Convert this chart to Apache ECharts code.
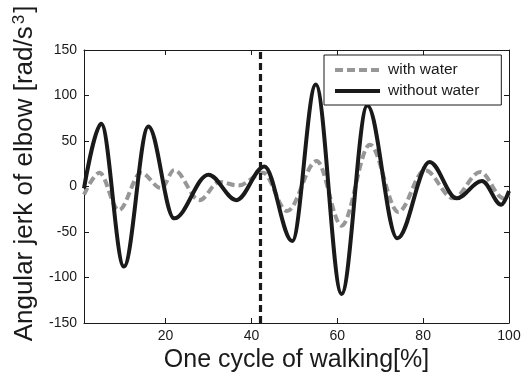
<!DOCTYPE html>
<html>
<head>
<meta charset="utf-8">
<style>
  html, body { margin: 0; padding: 0; background: #fff; }
  #chart { width: 530px; height: 378px; }
</style>
<script src="https://cdn.jsdelivr.net/npm/echarts@6/dist/echarts.min.js"></script>
</head>
<body>
<div id="chart"></div>
<script>
// Angular jerk of the elbow over one walking cycle, turning points of each trace
const seriesNames = ['with water', 'without water'];

const withWaterX = [1, 4.6, 9.1, 14.3, 19, 22, 27.9, 32.5, 37, 42.7, 48.3, 55.2, 61, 67.6, 74.2, 80.4, 87, 93.3, 98.7, 100];
const withWaterY = [-9, 15, -26, 15, -2, 18, -15, 5, 1, 15, -27, 28, -43, 46, -28, 18, -13, 16, -13, -9];

const withoutWaterX = [1, 5, 10.3, 16, 22, 30, 36.5, 43, 49.5, 55, 61, 67, 74, 81.5, 87.8, 93.7, 98.2, 100];
const withoutWaterY = [-2, 69, -88, 66, -35, 13, -15, 22, -60, 112, -118, 89, -57, 27, -13, 6, -20, -5];

// Phase boundary marked within the cycle
const cutPoint = 42;

const xTickValues = [20, 40, 60, 80, 100];
const xRange = [1, 100];
const yRange = [-150, 150];
const yStep = 50;

const pairs = (xs, ys) => xs.map((x, i) => [x, ys[i]]);

const FONT = '"Liberation Sans", Arial, sans-serif';
const INK = '#1a1a1a';
const GREY = '#979797';

const chart = echarts.init(document.getElementById('chart'), null, { renderer: 'canvas' });

const xCommon = {
  type: 'value',
  min: xRange[0],
  max: xRange[1],
  splitLine: { show: false },
  axisLine: { show: true, onZero: false, lineStyle: { color: INK, width: 1 } },
  axisTick: { show: true, inside: true, length: 5, customValues: xTickValues, lineStyle: { color: INK } }
};
const yCommon = {
  type: 'value',
  min: yRange[0],
  max: yRange[1],
  interval: yStep,
  splitLine: { show: false },
  axisLine: { show: true, onZero: false, lineStyle: { color: INK, width: 1 } },
  axisTick: { show: true, inside: true, length: 5, lineStyle: { color: INK } }
};

chart.setOption({
  animation: false,
  backgroundColor: '#fff',
  textStyle: { fontFamily: FONT },
  grid: { left: 84, right: 21, top: 50, bottom: 55, containLabel: false },
  legend: {
    data: seriesNames,
    orient: 'vertical',
    left: 324,
    top: 55,
    backgroundColor: '#fff',
    borderColor: INK,
    borderWidth: 1,
    borderRadius: 0,
    padding: [7, 22, 6, 9],
    itemWidth: 45,
    itemHeight: 14,
    itemGap: 5,
    itemStyle: { opacity: 0, borderWidth: 0 },
    lineStyle: { width: 4 },
    textStyle: { fontFamily: FONT, fontSize: 15.5, color: INK, padding: [0, 0, 0, 3] }
  },
  xAxis: [
    Object.assign({}, xCommon, {
      position: 'bottom',
      name: 'One cycle of walking[%]',
      nameLocation: 'middle',
      nameGap: 22,
      nameTextStyle: { fontFamily: FONT, fontSize: 25, color: INK },
      axisLabel: { show: true, customValues: xTickValues, margin: 6, fontFamily: FONT, fontSize: 14, color: INK }
    }),
    Object.assign({}, xCommon, {
      position: 'top',
      axisLabel: { show: false }
    })
  ],
  yAxis: [
    Object.assign({}, yCommon, {
      position: 'left',
      name: 'Angular jerk of elbow [rad/s{sup|3}]',
      nameLocation: 'middle',
      nameGap: 42,
      nameTextStyle: {
        fontFamily: FONT, fontSize: 26, color: INK,
        padding: [0, 0, 0, 26],
        rich: {
          sup: { fontFamily: FONT, fontSize: 17, color: INK, verticalAlign: 'top', padding: [0, 2, 11, 2] }
        }
      },
      axisLabel: { show: true, margin: 7, fontFamily: FONT, fontSize: 14, color: INK }
    }),
    Object.assign({}, yCommon, {
      position: 'right',
      axisLabel: { show: false }
    })
  ],
  series: [
    {
      name: seriesNames[0],
      type: 'line',
      data: pairs(withWaterX, withWaterY),
      smooth: 0.35,
      smoothMonotone: 'x',
      symbol: 'none',
      lineStyle: { color: GREY, width: 4, type: [8, 4] },
      itemStyle: { color: GREY },
      z: 2
    },
    {
      name: seriesNames[1],
      type: 'line',
      data: pairs(withoutWaterX, withoutWaterY),
      smooth: 0.35,
      smoothMonotone: 'x',
      symbol: 'none',
      lineStyle: { color: INK, width: 4, type: 'solid' },
      itemStyle: { color: INK },
      z: 3
    },
    {
      name: 'phase',
      type: 'line',
      data: [],
      z: 4,
      markLine: {
        silent: true,
        symbol: 'none',
        label: { show: false },
        lineStyle: { color: INK, width: 3.2, type: [7, 4] },
        data: [{ xAxis: cutPoint }]
      }
    }
  ]
});
</script>
</body>
</html>
